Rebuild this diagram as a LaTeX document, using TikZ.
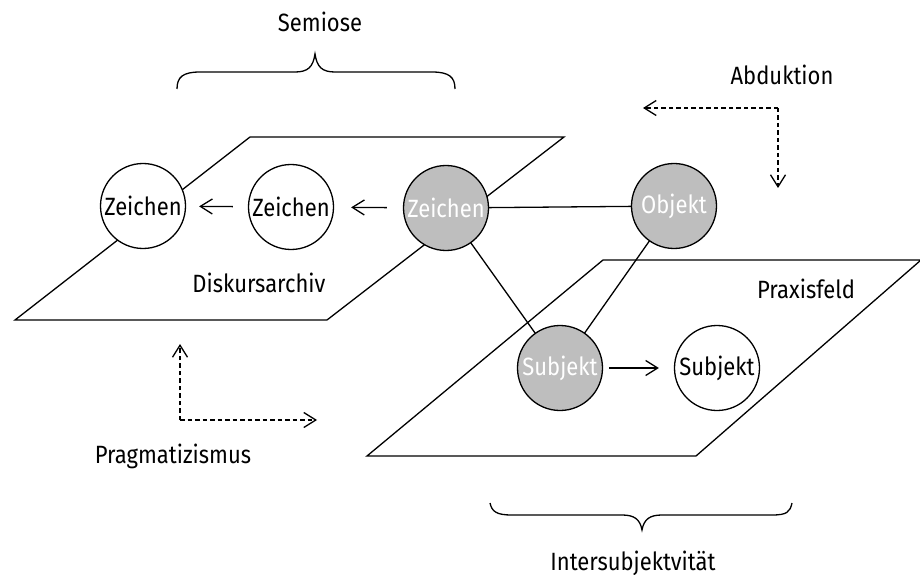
\documentclass[tikz,border=0pt]{standalone}
\usepackage{fontspec}
\setmainfont{Fira Sans}[FakeStretch=0.88]
\usetikzlibrary{arrows.meta}
\definecolor{circgray}{RGB}{190,190,190}
\newcommand{\labfont}{\fontsize{25bp}{28bp}\selectfont}
\tikzset{
  circ/.style={circle, draw, line width=1.3bp, minimum size=85bp, inner sep=0pt, font=\labfont},
  gcirc/.style={circ, fill=circgray, text=white},
  wcirc/.style={circ, fill=white},
  plane/.style={draw, line width=1.3bp, line join=miter},
  link/.style={draw, line width=1.3bp},
  tip/.style={-{Straight Barb[length=12bp,width=15bp,line width=1.3bp]}},
  dashline/.style={dash pattern=on 4.5bp off 3bp, line width=1.3bp},
  lab/.style={font=\labfont, inner sep=0pt, anchor=base},
  bracepath/.style={draw, line width=1.3bp}
}
\begin{document}
\begin{tikzpicture}[x=1bp,y=-1bp]
\useasboundingbox (0,0) rectangle (920,575);
\clip (0,0) rectangle (920,575);
% planes
\draw[plane] (250,137) -- (564,137) -- (327,320) -- (15,320) -- cycle;
\draw[plane] (603,260) -- (921,260) -- (696,456) -- (367,456) -- cycle;
% nodes
\node[wcirc] (z1) at (143,206) {Zeichen};
\node[wcirc] (z2) at (291,207) {Zeichen};
\coordinate (z3c) at (446,208);
\coordinate (objc) at (674,206);
\coordinate (s1c) at (560,368);
% links (behind circles)
\draw[link] (z3c) -- (objc);
\draw[link] (z3c) -- (s1c);
\draw[link] (objc) -- (s1c);
\node[gcirc] (z3) at (z3c) {Zeichen};
\node[gcirc] (obj) at (objc) {Objekt};
\node[gcirc] (s1) at (s1c) {Subjekt};
\node[wcirc] (s2) at (717,368) {Subjekt};
% arrows
\draw[link, tip, shorten <=15bp, shorten >=13bp] (z2) -- (z1);
\draw[link, tip, shorten <=16bp, shorten >=17bp] (z3) -- (z2);
\draw[link, tip, shorten <=6bp, shorten >=15bp] (s1) -- (s2);
% labels
\node[lab] (disk) at (259,292) {Diskursarchiv};
\node[lab] (prax) at (806,298) {Praxisfeld};
\node[lab] (sem) at (320,32) {Semiose};
\node[lab] (abd) at (782,85) {Abduktion};
\node[lab] (prag) at (173,463) {Pragmatizismus};
\node[lab] (inter) at (633,570) {Intersubjektvität};
% dashed arrows
\coordinate (ac) at (778,108);
\coordinate (al) at (643,108);
\coordinate (ad) at (778,188);
\draw[dashline, tip] (ac) -- (al);
\draw[dashline, tip] (ac) -- (ad);
\coordinate (pc) at (180,420);
\coordinate (pu) at (180,344);
\coordinate (pr) at (317,420);
\draw[dashline, tip] (pc) -- (pu);
\draw[dashline, tip] (pc) -- (pr);
% braces
\draw[bracepath] (177,89) .. controls (177,77) and (183,72) .. (200,72) -- (295,72)
  .. controls (308,72) and (313,67) .. (315,54)
  .. controls (317,67) and (322,72) .. (335,72) -- (432,72)
  .. controls (449,72) and (455,77) .. (455,89);
\draw[bracepath] (490,503) .. controls (492,512) and (497,515) .. (512,515) -- (622,515)
  .. controls (634,515) and (640,519) .. (642,530)
  .. controls (644,519) and (650,515) .. (662,515) -- (772,515)
  .. controls (787,515) and (790,512) .. (792,503);
\end{tikzpicture}
\end{document}
